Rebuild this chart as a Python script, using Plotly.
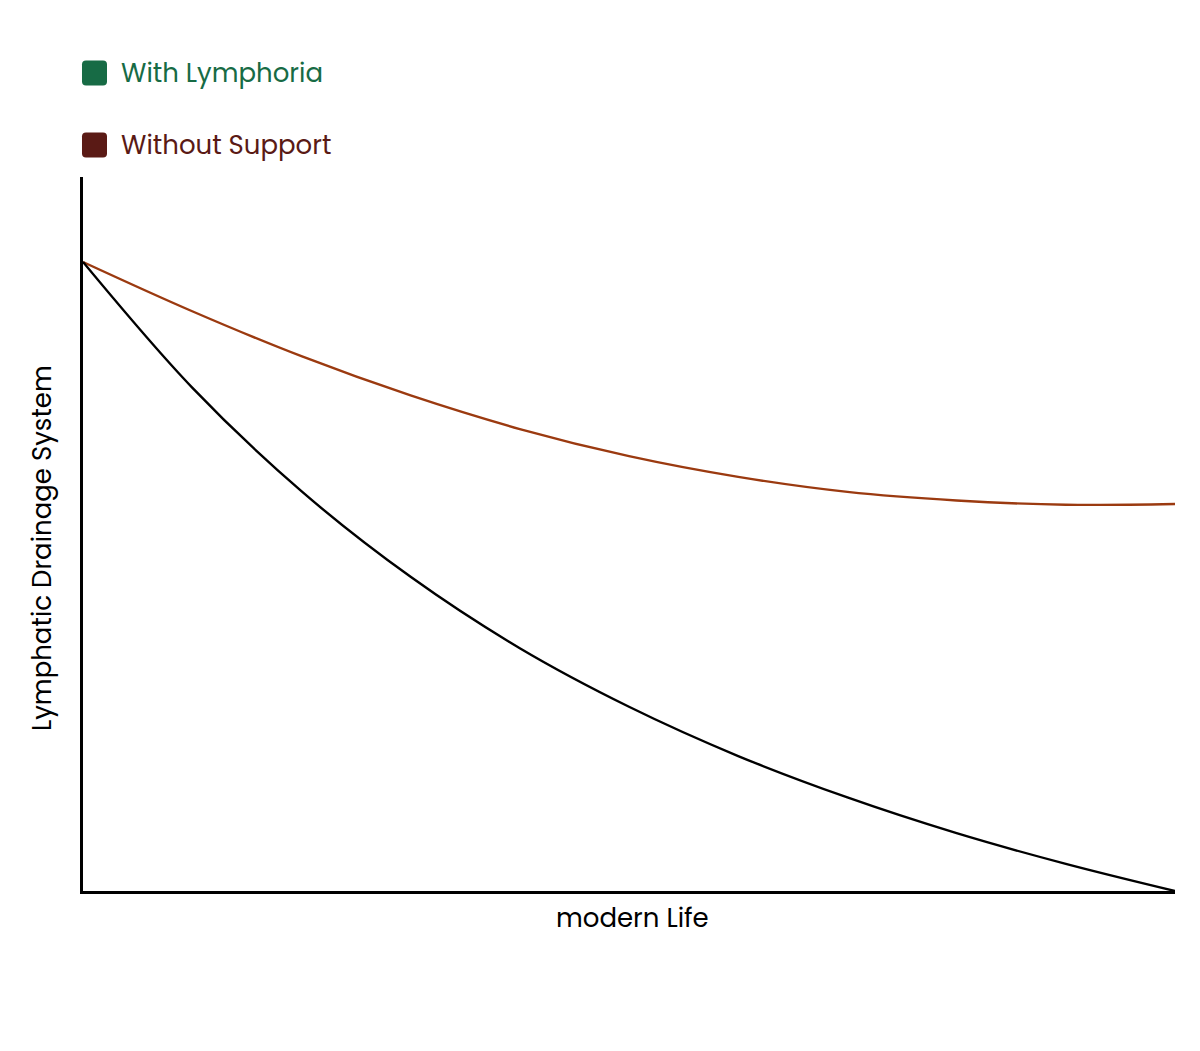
import plotly.graph_objects as go

# dados (escala 0-100 nos dois eixos)
x_vals = [0, 10, 20, 30, 40, 50, 60, 70, 80, 90, 100]
curva_marrom = [88.1, 81.2, 74.9, 69.4, 64.7, 60.9, 58.0, 55.9, 54.7, 54.1, 54.2]
curva_preta = [88.1, 70.5, 56.0, 44.0, 34.0, 25.8, 18.9, 13.1, 8.1, 3.8, 0]

legenda_nomes = ["With Lymphoria", "Without Support"]
legenda_cores = ["#176b45", "#5a1a15"]

fig = go.Figure()

fig.add_trace(go.Scatter(
    x=x_vals, y=curva_marrom, mode="lines",
    line=dict(color="#9b3a10", width=2.4, shape="spline", smoothing=1),
    showlegend=False, hoverinfo="skip"
))
fig.add_trace(go.Scatter(
    x=x_vals, y=curva_preta, mode="lines",
    line=dict(color="#000000", width=2.4, shape="spline", smoothing=1),
    showlegend=False, hoverinfo="skip"
))

W, H = 1200, 1051
OFF = 8  # margem padrão do <body> na página
fonte = "Poppins, Lato, sans-serif"

# área do gráfico (em pixels da figura)
ml, mt = 83 - OFF, 177 - OFF
mr = W - (1175 - OFF)
mb = H - (891 - OFF)
pw, ph = W - ml - mr, H - mt - mb


def paper(px, py):
    """pixel da página -> coordenadas paper do gráfico"""
    fx, fy = px - OFF, py - OFF
    return (fx - ml) / pw, 1 - (fy - mt) / ph


def caixa_arredondada(x0, y0, x1, y1, r):
    p = lambda a, b: "{:.5f},{:.5f}".format(*paper(a, b))
    return (f"M {p(x0 + r, y0)} L {p(x1 - r, y0)} Q {p(x1, y0)} {p(x1, y0 + r)} "
            f"L {p(x1, y1 - r)} Q {p(x1, y1)} {p(x1 - r, y1)} L {p(x0 + r, y1)} "
            f"Q {p(x0, y1)} {p(x0, y1 - r)} L {p(x0, y0 + r)} Q {p(x0, y0)} {p(x0 + r, y0)} Z")


shapes = []
annotations = []
for i, (nome, cor) in enumerate(zip(legenda_nomes, legenda_cores)):
    cy = 73 + i * 72
    shapes.append(dict(type="path", xref="paper", yref="paper",
                       path=caixa_arredondada(82, cy - 12.5, 107, cy + 12.5, 4),
                       fillcolor=cor, line=dict(width=0)))
    ax, ay = paper(119, cy)
    annotations.append(dict(text=nome, xref="paper", yref="paper", x=ax, y=ay,
                            xanchor="left", yanchor="middle", showarrow=False,
                            font=dict(size=26, color=cor, family=fonte)))

tx, ty = paper(632, 918)
annotations.append(dict(text="modern Life", xref="paper", yref="paper", x=tx, y=ty,
                        xanchor="center", yanchor="middle", showarrow=False,
                        font=dict(size=26, color="#000000", family=fonte)))
tx, ty = paper(42, 548)
annotations.append(dict(text="Lymphatic Drainage System", xref="paper", yref="paper",
                        x=tx, y=ty, textangle=-90, xanchor="center", yanchor="middle",
                        showarrow=False, font=dict(size=26, color="#000000", family=fonte)))

fig.update_layout(
    width=W, height=H,
    margin=dict(l=ml, r=mr, t=mt, b=mb),
    paper_bgcolor="white", plot_bgcolor="white",
    shapes=shapes, annotations=annotations,
    showlegend=False,
    xaxis=dict(range=[0, 100], showgrid=False, zeroline=False, showticklabels=False,
               ticks="", showline=True, linecolor="#000000", linewidth=3, fixedrange=True),
    yaxis=dict(range=[0, 100], showgrid=False, zeroline=False, showticklabels=False,
               ticks="", showline=True, linecolor="#000000", linewidth=3, fixedrange=True),
)

fig.write_html("out.html")
